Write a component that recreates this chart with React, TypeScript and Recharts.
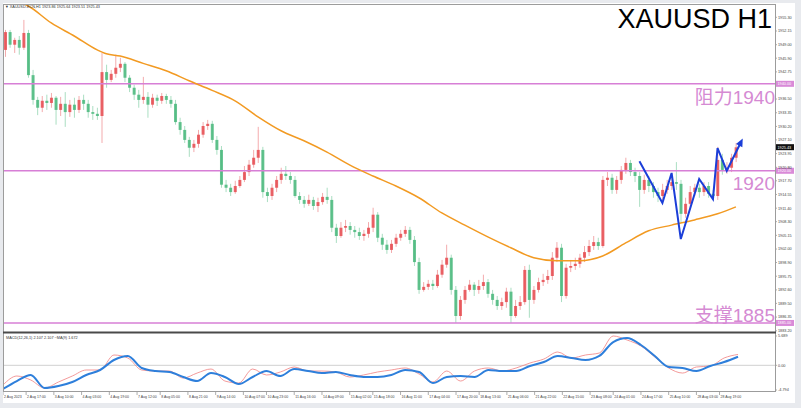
import React from 'react';
import { ComposedChart, Bar, Line, XAxis, YAxis, ReferenceLine } from 'recharts';

// H1 candles, grouped (about 3 bars each) so they stay readable at this size
const opens = [
  1947.8, 1951.9, 1949.0, 1950.1, 1948.3, 1951.7, 1942.0, 1936.3, 1934.5, 1936.1,
  1935.6, 1936.8, 1934.0, 1935.4, 1933.5, 1935.2, 1934.0, 1936.3, 1935.4, 1933.5,
  1933.1, 1932.6, 1942.7, 1940.9, 1942.3, 1943.7, 1944.6, 1941.4, 1939.1, 1937.5,
  1936.3, 1937.0, 1935.2, 1936.8, 1936.1, 1937.2, 1936.3, 1935.4, 1931.2, 1929.4,
  1927.1, 1925.3, 1926.2, 1928.3, 1930.3, 1930.8, 1927.1, 1924.8, 1916.8, 1916.1,
  1915.1, 1916.5, 1917.9, 1919.7, 1921.4, 1923.0, 1924.8, 1915.1, 1914.2, 1916.1,
  1917.9, 1919.3, 1918.8, 1917.9, 1914.2, 1913.3, 1912.4, 1913.3, 1911.9, 1912.8,
  1914.0, 1913.3, 1906.9, 1905.0, 1906.9, 1907.3, 1906.4, 1905.9, 1905.0, 1905.5,
  1906.9, 1909.9, 1904.6, 1903.0, 1901.8, 1903.2, 1904.6, 1905.5, 1906.4, 1904.1,
  1899.0, 1892.6, 1893.3, 1894.0, 1893.5, 1896.1, 1898.4, 1900.0, 1892.6, 1886.6,
  1890.3, 1892.6, 1893.8, 1892.6, 1893.5, 1894.4, 1891.7, 1890.3, 1888.9, 1889.8,
  1892.2, 1886.6, 1888.9, 1889.8, 1897.2, 1890.3, 1892.6, 1894.4, 1894.9, 1895.8,
  1900.0, 1902.3, 1891.2, 1897.7, 1898.1, 1898.6, 1900.0, 1901.3, 1902.7, 1903.6,
  1902.7, 1917.9, 1918.4, 1915.6, 1917.9, 1920.2, 1921.8, 1919.7, 1918.8, 1915.6,
  1917.9, 1916.5, 1915.1, 1914.2, 1915.6, 1916.5, 1917.4, 1917.0, 1910.1, 1912.4,
  1915.1, 1916.1, 1915.1, 1916.5, 1914.7, 1914.2, 1922.5, 1920.2, 1920.7, 1923.0,
];
const highs = [
  1952.4, 1952.4, 1950.6, 1951.0, 1954.7, 1952.4, 1943.2, 1937.0, 1937.2, 1937.5,
  1937.9, 1937.2, 1937.0, 1938.1, 1936.3, 1936.8, 1937.2, 1937.5, 1936.3, 1934.9,
  1934.5, 1947.1, 1944.4, 1943.2, 1946.7, 1946.0, 1945.0, 1942.0, 1939.8, 1938.6,
  1941.6, 1938.1, 1937.7, 1937.5, 1937.9, 1937.7, 1937.2, 1936.3, 1932.2, 1930.3,
  1927.8, 1927.1, 1929.4, 1931.2, 1931.7, 1931.5, 1928.0, 1925.7, 1917.9, 1917.0,
  1917.7, 1918.8, 1921.1, 1922.5, 1924.8, 1930.1, 1925.5, 1916.1, 1917.0, 1918.8,
  1920.7, 1921.1, 1919.7, 1918.8, 1915.1, 1914.2, 1914.5, 1914.0, 1913.8, 1914.9,
  1916.1, 1914.2, 1907.8, 1908.2, 1908.7, 1908.2, 1907.3, 1906.9, 1906.4, 1908.2,
  1911.5, 1910.5, 1905.5, 1904.1, 1904.1, 1905.5, 1906.4, 1907.3, 1907.1, 1905.0,
  1900.0, 1894.4, 1894.9, 1894.9, 1897.2, 1899.5, 1903.0, 1900.7, 1893.5, 1891.2,
  1893.5, 1894.9, 1894.4, 1894.9, 1896.1, 1895.1, 1892.6, 1891.2, 1890.8, 1893.1,
  1893.1, 1890.3, 1891.2, 1898.1, 1898.4, 1893.5, 1895.4, 1896.3, 1897.2, 1901.3,
  1903.6, 1903.2, 1898.6, 1899.5, 1900.0, 1900.9, 1902.7, 1904.1, 1905.0, 1904.6,
  1918.8, 1919.7, 1919.3, 1918.8, 1921.1, 1923.0, 1922.5, 1920.7, 1919.7, 1919.1,
  1918.8, 1917.4, 1916.1, 1917.0, 1917.9, 1918.8, 1922.0, 1917.9, 1913.8, 1916.5,
  1917.0, 1917.0, 1917.4, 1917.4, 1915.6, 1925.5, 1923.9, 1922.0, 1923.9, 1926.4,
];
const lows = [
  1946.2, 1948.3, 1947.1, 1946.7, 1947.8, 1941.4, 1935.2, 1932.8, 1933.5, 1934.0,
  1934.5, 1930.6, 1932.6, 1930.1, 1932.4, 1932.2, 1933.3, 1934.0, 1932.2, 1931.7,
  1931.7, 1926.4, 1939.1, 1940.4, 1941.4, 1942.7, 1940.4, 1938.1, 1936.3, 1934.5,
  1935.4, 1932.2, 1934.5, 1934.9, 1935.4, 1935.4, 1934.5, 1930.6, 1928.3, 1926.4,
  1923.2, 1924.3, 1925.3, 1927.6, 1929.4, 1926.4, 1923.7, 1916.1, 1915.1, 1914.2,
  1914.7, 1916.1, 1917.4, 1918.8, 1920.7, 1921.8, 1913.8, 1912.8, 1913.3, 1915.1,
  1917.0, 1917.9, 1917.0, 1913.8, 1912.4, 1911.5, 1911.9, 1911.0, 1910.5, 1912.2,
  1912.4, 1905.9, 1903.4, 1904.6, 1905.9, 1905.3, 1904.6, 1904.1, 1903.9, 1904.6,
  1905.9, 1903.6, 1901.8, 1900.9, 1901.1, 1902.5, 1903.9, 1904.8, 1903.2, 1898.1,
  1891.7, 1892.2, 1892.6, 1892.6, 1893.1, 1895.4, 1897.7, 1891.5, 1885.0, 1885.7,
  1889.4, 1892.2, 1891.2, 1891.7, 1892.6, 1890.8, 1889.2, 1888.0, 1888.0, 1888.5,
  1885.0, 1886.2, 1888.0, 1889.2, 1886.2, 1889.4, 1892.0, 1893.5, 1894.0, 1894.9,
  1899.0, 1889.8, 1890.6, 1896.7, 1897.2, 1897.7, 1899.0, 1900.4, 1901.8, 1901.8,
  1902.3, 1916.5, 1914.7, 1914.7, 1917.0, 1919.3, 1918.8, 1917.4, 1911.7, 1914.7,
  1915.1, 1913.8, 1912.8, 1913.3, 1914.7, 1915.6, 1915.6, 1908.0, 1909.2, 1911.5,
  1914.2, 1913.8, 1914.2, 1913.8, 1913.3, 1913.3, 1919.1, 1919.3, 1919.7, 1922.0,
];
const closes = [
  1951.9, 1949.0, 1950.1, 1948.3, 1951.7, 1942.0, 1936.3, 1934.5, 1936.1, 1935.6,
  1936.8, 1934.0, 1935.4, 1933.5, 1935.2, 1934.0, 1936.3, 1935.4, 1933.5, 1933.1,
  1932.6, 1942.7, 1940.9, 1942.3, 1943.7, 1944.6, 1941.4, 1939.1, 1937.5, 1936.3,
  1937.0, 1935.2, 1936.8, 1936.1, 1937.2, 1936.3, 1935.4, 1931.2, 1929.4, 1927.1,
  1925.3, 1926.2, 1928.3, 1930.3, 1930.8, 1927.1, 1924.8, 1916.8, 1916.1, 1915.1,
  1916.5, 1917.9, 1919.7, 1921.4, 1923.0, 1924.8, 1915.1, 1914.2, 1916.1, 1917.9,
  1919.3, 1918.8, 1917.9, 1914.2, 1913.3, 1912.4, 1913.3, 1911.9, 1912.8, 1914.0,
  1913.3, 1906.9, 1905.0, 1906.9, 1907.3, 1906.4, 1905.9, 1905.0, 1905.5, 1906.9,
  1909.9, 1904.6, 1903.0, 1901.8, 1903.2, 1904.6, 1905.5, 1906.4, 1904.1, 1899.0,
  1892.6, 1893.3, 1894.0, 1893.5, 1896.1, 1898.4, 1900.0, 1892.6, 1886.6, 1890.3,
  1892.6, 1893.8, 1892.6, 1893.5, 1894.4, 1891.7, 1890.3, 1888.9, 1889.8, 1892.2,
  1886.6, 1888.9, 1889.8, 1897.2, 1890.3, 1892.6, 1894.4, 1894.9, 1895.8, 1900.0,
  1902.3, 1891.2, 1897.7, 1898.1, 1898.6, 1900.0, 1901.3, 1902.7, 1903.6, 1902.7,
  1917.9, 1918.4, 1915.6, 1917.9, 1920.2, 1921.8, 1919.7, 1918.8, 1915.6, 1917.9,
  1916.5, 1915.1, 1914.2, 1915.6, 1916.5, 1917.4, 1917.0, 1910.1, 1912.4, 1915.1,
  1916.1, 1915.1, 1916.5, 1914.7, 1914.2, 1922.5, 1920.2, 1920.7, 1923.0, 1925.4,
];

// moving average (orange), sampled at these candle slots
const maSlots = [0, 5, 10, 15, 20, 22, 25, 30, 35, 40, 45, 50, 55, 60, 65, 70, 75, 80, 85, 90, 95, 100, 105, 110, 115, 120, 125, 130, 135, 140, 145, 150, 155, 159];
const maValues = [
  1959.5, 1957.9, 1954.0, 1951.0, 1947.8, 1946.9, 1946.4, 1944.7, 1943.0, 1940.7,
  1938.5, 1936.1, 1932.4, 1929.2, 1926.9, 1924.3, 1921.3, 1918.8, 1916.5, 1913.8,
  1910.3, 1907.5, 1904.8, 1902.3, 1900.0, 1899.3, 1899.3, 1900.4, 1903.4, 1906.2,
  1907.5, 1908.7, 1910.1, 1911.7,
];

// MACD panel, one value every 3 candles
const MACD_STEP = 3;
const macdValues = [
  -3.83, -2.08, -2.85, -4.41, -3.24, -2.08, -0.91, -0.91, 2.0, 1.42,
  -0.91, -1.11, -1.11, -2.47, -1.5, -0.72, -3.05, -3.44, -0.72, -1.88,
  -1.3, -0.33, -1.11, -1.11, -1.3, -2.27, -1.88, -1.3, -0.91, -0.52,
  -1.69, -3.24, -1.11, -3.05, -1.11, -0.52, -1.11, -0.52, 0.45, 1.22,
  2.58, 1.42, 2.0, 2.39, 5.69, 4.91, 3.75, 1.61, -0.52, -1.5,
  -0.33, -0.14, 1.42, 2.11,
];
const signalValues = [
  -4.6, -3.05, -1.88, -4.41, -4.02, -3.24, -1.88, -0.91, 1.03, 1.81,
  -0.52, -1.11, -1.3, -2.27, -3.05, -1.5, -2.27, -3.63, -2.27, -1.11,
  -2.08, -0.72, -1.11, -1.5, -1.3, -1.88, -2.27, -2.27, -1.88, -0.91,
  -1.3, -3.44, -2.27, -2.08, -2.27, -0.91, -1.11, -1.11, -0.14, 0.64,
  1.81, 1.42, 1.03, 1.81, 4.52, 5.3, 3.94, 1.81, -0.33, -0.52,
  -1.11, -0.14, 0.64, 1.67,
];

// hand-drawn blue zigzag
const zigSlots = [138, 143, 145, 147, 151, 154, 155, 157, 160];
const zigValues = [1922.2, 1912.6, 1919.5, 1904.3, 1918.1, 1913.5, 1925.2, 1920.0, 1926.4];

const priceTicks = [
  1955.3, 1952.15, 1949.0, 1945.9, 1942.75, 1936.5, 1933.35, 1930.2, 1927.1, 1923.95,
  1920.8, 1917.7, 1914.55, 1911.4, 1908.3, 1905.15, 1902.0, 1898.9, 1895.75, 1892.6,
  1889.5, 1886.35, 1883.2,
];
const levels = [1940, 1920, 1885];
const lastPrice = 1925.43;
const macdTicks = [5.689, 0, -4.794];

const tickSlots = [0, 5, 11, 17, 23, 29, 34, 40, 46, 52, 57, 63, 69, 75, 80, 86, 92, 98, 103, 109, 115, 121, 127, 132, 138, 144, 150, 155];
const tickLabels = [
  '2 Aug 2023', '2 Aug 17:00', '3 Aug 10:00', '4 Aug 03:00', '4 Aug 19:00', '7 Aug 12:00',
  '8 Aug 05:00', '8 Aug 21:00', '9 Aug 14:00', '10 Aug 07:00', '10 Aug 23:00', '11 Aug 16:00',
  '14 Aug 09:00', '15 Aug 02:00', '15 Aug 18:00', '16 Aug 11:00', '17 Aug 04:00', '17 Aug 20:00',
  '18 Aug 13:00', '21 Aug 06:00', '21 Aug 22:00', '22 Aug 15:00', '23 Aug 08:00', '24 Aug 01:00',
  '24 Aug 17:00', '25 Aug 10:00', '28 Aug 03:00', '28 Aug 19:00',
];

const SLOTS = 168; // leaves empty space on the right like the terminal's chart shift

const rows = Array.from({ length: SLOTS }, (_, i) => {
  const row: any = { i };
  if (i < closes.length) {
    row.open = opens[i];
    row.high = highs[i];
    row.low = lows[i];
    row.close = closes[i];
  }
  const m = maSlots.indexOf(i);
  if (m >= 0) row.ma = maValues[m];
  if (i % MACD_STEP === 0 && i / MACD_STEP < macdValues.length) {
    row.macd = macdValues[i / MACD_STEP];
    row.signal = signalValues[i / MACD_STEP];
  }
  const z = zigSlots.indexOf(i);
  if (z >= 0) row.zig = zigValues[z];
  return row;
});

const UP = '#e5454a';
const DOWN = '#43b678';
const PINK = '#d77fd6';
const SMALL = '"Liberation Sans", Arial, sans-serif';

const Candle = (props: any) => {
  const { x, y, width, height, payload } = props;
  if (!payload || payload.open == null) return <g />;
  const { open, close, high, low } = payload;
  const h = Math.abs(height);
  const top = height < 0 ? y + height : y;
  const k = high === low ? 0 : h / (high - low);
  const color = close >= open ? UP : DOWN;
  const bodyTop = top + (high - Math.max(open, close)) * k;
  const bodyH = Math.max(1, Math.abs(open - close) * k);
  const cx = x + width / 2;
  return (
    <g>
      <line x1={cx} x2={cx} y1={top} y2={top + h} stroke={color} strokeOpacity={0.45} strokeWidth={1} />
      <rect x={x} y={bodyTop} width={width} height={bodyH} fill={color} fillOpacity={0.82} />
    </g>
  );
};

const PriceTick = ({ x, y, payload }: any) => (
  <g>
    <line x1={x} x2={x + 2} y1={y} y2={y} stroke="#777" strokeWidth={0.6} />
    <text x={x + 3} y={y + 1.4} fontSize={3.8} fill="#444" fontFamily={SMALL}>
      {payload.value.toFixed(2)}
    </text>
  </g>
);

const MacdTick = ({ x, y, payload }: any) => (
  <g>
    <line x1={x} x2={x + 2} y1={y} y2={y} stroke="#777" strokeWidth={0.6} />
    <text x={x + 3} y={y + 1.4} fontSize={3.8} fill="#444" fontFamily={SMALL}>
      {payload.value === 0 ? '0.00' : String(payload.value)}
    </text>
  </g>
);

const TimeTick = ({ x, y, payload }: any) => {
  const k = tickSlots.indexOf(payload.value);
  return (
    <g>
      <line x1={x} x2={x} y1={y} y2={y + 3} stroke="#777" strokeWidth={0.6} />
      <text x={x + 1} y={y + 6} fontSize={3.5} fill="#444" fontFamily={SMALL}>
        {k >= 0 ? tickLabels[k] : ''}
      </text>
    </g>
  );
};

const tag = (text: string, bg: string) => (props: any) => {
  const vb = props.viewBox || {};
  const x = vb.x + vb.width + 1;
  return (
    <g>
      <rect x={x} y={vb.y - 3} width={18} height={6} fill={bg} />
      <text x={x + 1.5} y={vb.y + 1.5} fontSize={3.8} fill="#fff" fontFamily={SMALL}>{text}</text>
    </g>
  );
};

const ZigArrow = (props: any) => {
  const { cx, cy, payload } = props;
  if (!payload || payload.i !== zigSlots[zigSlots.length - 1]) return <g key={`z${props.index}`} />;
  return (
    <polygon
      key={`z${props.index}`}
      points="5,0 -3,-3.5 -3,3.5"
      transform={`translate(${cx},${cy}) rotate(-64)`}
      fill="#1b3ed8"
    />
  );
};

export default function App() {
  return (
    <div style={{ position: 'absolute', left: 0, top: 0, width: 801, height: 408, background: '#e8eaee', overflow: 'hidden' }}>
      <div style={{ position: 'absolute', left: 3, top: 3, width: 792, height: 400, background: '#fff' }} />

      <div style={{ position: 'absolute', left: 3, top: 4 }}>
        <ComposedChart width={792} height={328} data={rows} margin={{ top: 0, right: 0, bottom: 0, left: 0 }}>
          <XAxis dataKey="i" hide />
          <YAxis
            orientation="right"
            width={20}
            domain={[1882.92, 1958.36]}
            allowDataOverflow
            ticks={priceTicks}
            interval={0}
            axisLine={false}
            tickLine={false}
            tickSize={0}
            tickMargin={0}
            tick={<PriceTick />}
          />
          {levels.map((v) => (
            <ReferenceLine key={v} y={v} stroke={PINK} strokeWidth={1.5} label={tag(v.toFixed(2), '#d98ad8')} />
          ))}
          <ReferenceLine y={lastPrice} stroke="none" label={tag(lastPrice.toFixed(2), '#111')} />
          <Bar
            dataKey={(d: any) => (d.open == null ? null : [d.low, d.high])}
            barSize={3}
            shape={(p: any) => <Candle {...p} />}
            isAnimationActive={false}
          />
          <Line dataKey="ma" type="monotone" connectNulls stroke="#f29a22" strokeWidth={1.5} dot={false} isAnimationActive={false} />
          <Line dataKey="zig" type="linear" connectNulls stroke="#1b3ed8" strokeWidth={2} dot={ZigArrow} isAnimationActive={false} />
        </ComposedChart>
      </div>

      <div style={{ position: 'absolute', left: 3, top: 333 }}>
        <ComposedChart width={792} height={70} data={rows} margin={{ top: 0, right: 0, bottom: 0, left: 0 }}>
          <XAxis
            dataKey="i"
            height={11}
            ticks={tickSlots}
            interval={0}
            axisLine={false}
            tickLine={false}
            tickSize={0}
            tickMargin={0}
            tick={<TimeTick />}
          />
          <YAxis
            orientation="right"
            width={20}
            domain={[-5.18, 6.27]}
            ticks={macdTicks}
            interval={0}
            axisLine={false}
            tickLine={false}
            tickSize={0}
            tickMargin={0}
            tick={<MacdTick />}
          />
          <ReferenceLine y={0} stroke="#d0d0d0" strokeWidth={1} />
          <Line dataKey="macd" type="monotone" connectNulls stroke="#f08080" strokeWidth={0.8} dot={false} isAnimationActive={false} />
          <Line dataKey="signal" type="monotone" connectNulls stroke="#2e7fdb" strokeWidth={2} dot={false} isAnimationActive={false} />
        </ComposedChart>
      </div>

      <svg width={801} height={408} style={{ position: 'absolute', left: 0, top: 0, pointerEvents: 'none' }}>
        <rect x={3.5} y={4.5} width={772} height={387} fill="none" stroke="#9c9c9c" strokeWidth={1} />
        <line x1={3} x2={776} y1={332.5} y2={332.5} stroke="#4a4a4a" strokeWidth={2} />
        <text x={5} y={8} fontSize={3.8} fill="#333" fontFamily={SMALL}>
          ▼ XAUUSD-ECN,H1  1923.86 1925.64 1923.51 1925.43
        </text>
        <text x={6} y={339} fontSize={3.8} fill="#333" fontFamily={SMALL}>
          MACD(12,26,1) 2.107 2.107  ~MA(9) 1.672
        </text>
        <text x={772} y={28} textAnchor="end" fontSize={27} fill="#000" fontFamily='"Liberation Sans", Arial, sans-serif'>
          XAUUSD H1
        </text>
        <text x={775} y={104} textAnchor="end" fontSize={19} fill="#d58ad3" fontFamily='"Liberation Sans", "Noto Sans CJK SC", sans-serif'>
          阻力1940
        </text>
        <text x={775} y={190} textAnchor="end" fontSize={19} fill="#d58ad3" fontFamily='"Liberation Sans", "Noto Sans CJK SC", sans-serif'>
          1920
        </text>
        <text x={775} y={322} textAnchor="end" fontSize={19} fill="#d58ad3" fontFamily='"Liberation Sans", "Noto Sans CJK SC", sans-serif'>
          支撑1885
        </text>
      </svg>
    </div>
  );
}
